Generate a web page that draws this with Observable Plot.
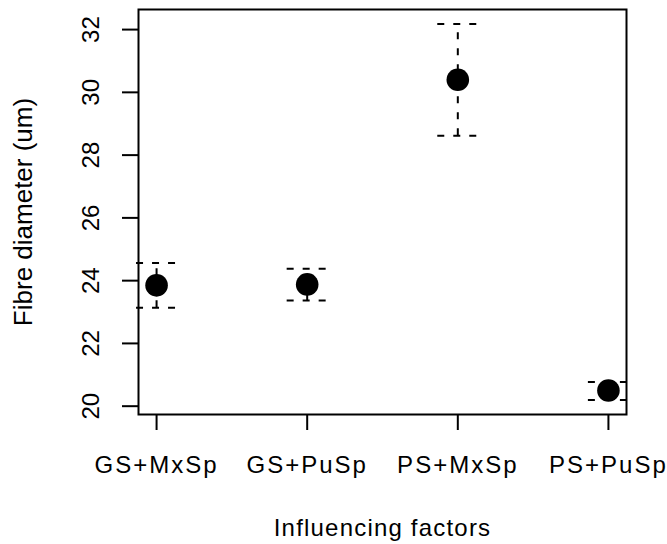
<!DOCTYPE html>
<html>
<head>
<meta charset="utf-8">
<script src="https://cdn.jsdelivr.net/npm/d3@7"></script>
<script src="https://cdn.jsdelivr.net/npm/@observablehq/plot@0.6"></script>
<style>
  html, body { margin: 0; padding: 0; background: #fff; }
  #chart { width: 667px; height: 544px; }
</style>
</head>
<body>
<div id="chart"></div>
<script>
// Data
const categories = ["GS+MxSp", "GS+PuSp", "PS+MxSp", "PS+PuSp"];
const means = [23.85, 23.88, 30.40, 20.50];
const lower = [23.14, 23.37, 28.62, 20.20];
const upper = [24.56, 24.38, 32.18, 20.77];
const yTicks = [20, 22, 24, 26, 28, 30, 32];
const xTitle = "Influencing factors";
const yTitle = "Fibre diameter (um)";

const data = categories.map((c, i) => ({
  i: i + 1, name: c, mean: means[i], lo: lower[i], hi: upper[i]
}));
const capHalf = 0.133; // half width of error-bar caps in x units

const chart = Plot.plot({
  width: 667,
  height: 544,
  marginTop: 9,
  marginBottom: 130,
  marginLeft: 138,
  marginRight: 41,
  style: { fontFamily: "'Liberation Sans', Arial, sans-serif", fontSize: "24px", color: "#000", background: "#fff" },
  x: { domain: [0.88, 4.12], axis: null },
  y: { domain: [19.735, 32.64], axis: null },
  marks: [
    Plot.axisY({ ticks: yTicks, tickSize: 16, tickPadding: 24, tickRotate: -90, strokeWidth: 2, label: null, fontSize: 24 }),
    Plot.axisX({ ticks: data.map(d => d.i), tickFormat: i => categories[i - 1], tickSize: 16, tickPadding: 25, strokeWidth: 2, label: null, fontSize: 24 }),
    Plot.frame({ stroke: "#000", strokeWidth: 2 }),
    Plot.ruleX(data, { x: "i", y1: "lo", y2: "hi", stroke: "#000", strokeWidth: 2, strokeDasharray: "7,9" }),
    Plot.ruleY(data, { x1: d => d.i - capHalf, x2: d => d.i + capHalf, y: "hi", stroke: "#000", strokeWidth: 2, strokeDasharray: "7,9" }),
    Plot.ruleY(data, { x1: d => d.i - capHalf, x2: d => d.i + capHalf, y: "lo", stroke: "#000", strokeWidth: 2, strokeDasharray: "7,9" }),
    Plot.dot(data, { x: "i", y: "mean", r: 11.3, fill: "#000", stroke: "none" }),
    Plot.text([yTitle], { frameAnchor: "left", rotate: -90, dx: -125, textAnchor: "middle", lineAnchor: "top", fontSize: 26, fill: "#000" }),
    Plot.text([xTitle], { frameAnchor: "bottom", dy: 121.5, textAnchor: "middle", lineAnchor: "bottom", fontSize: 24, fill: "#000" })
  ]
});

document.getElementById("chart").appendChild(chart);

// Horizontal texts in the reference are set a little wider
d3.select(chart).selectAll("text").each(function () {
  const t = this.textContent;
  if (categories.includes(t)) this.style.letterSpacing = "2px";
  if (t === xTitle) this.style.letterSpacing = "1.2px";
});
</script>
</body>
</html>
